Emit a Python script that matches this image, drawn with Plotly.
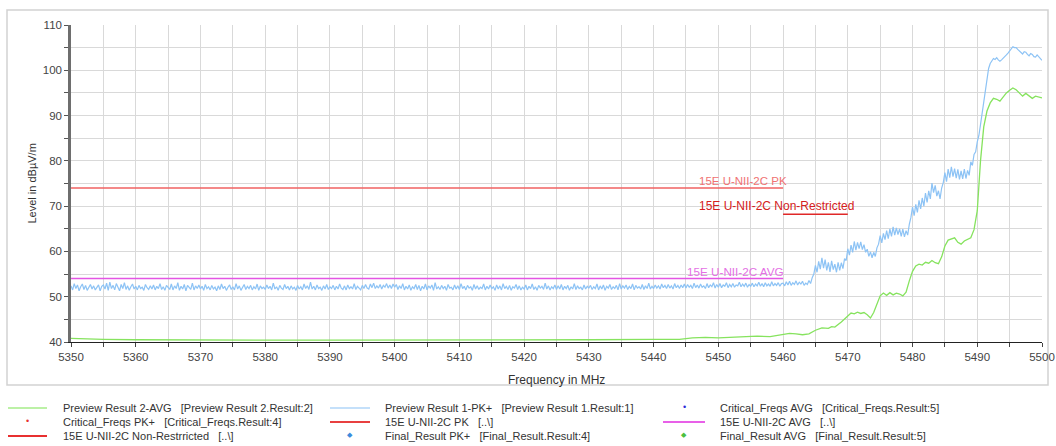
import plotly.graph_objects as go

# ---------------- data ----------------
pk_freq_start = 5350.0
pk_freq_step = 0.25
pk_levels = [
    52.4, 51.5, 52.9, 51.8, 52.6, 51.3, 52.2, 52.8, 51.6, 52.5, 51.4, 52.1, 52.7, 51.7, 52.4, 51.5, 52.0, 52.6, 51.3, 52.3,
    52.6, 51.7, 53.0, 51.4, 53.2, 51.8, 52.5, 51.5, 52.9, 51.9, 51.3, 52.7, 51.8, 53.1, 51.6, 52.4, 51.4, 52.2, 52.8, 51.7,
    52.3, 51.5, 52.5, 51.8, 52.1, 51.4, 52.7, 52.0, 51.6, 52.4, 51.7, 52.6, 51.5, 52.3, 51.8, 52.9, 51.6, 52.2, 51.4, 52.5,
    52.1, 51.6, 52.8, 51.5, 52.4, 51.8, 53.1, 51.4, 52.3, 51.7, 52.7, 51.3, 52.5, 51.9, 51.6, 53.0, 51.5, 52.4, 51.8, 52.6,
    51.7, 52.3, 51.4, 52.7, 51.8, 52.2, 51.5, 52.5, 51.7, 52.1, 51.3, 52.4, 51.6, 52.8, 51.8, 52.3, 51.4, 52.1, 52.6, 51.6,
    52.2, 51.5, 52.9, 51.7, 52.4, 51.4, 52.1, 52.7, 51.6, 52.3, 51.8, 52.5, 51.5, 52.2, 51.7, 52.8, 51.4, 52.4, 51.8, 52.1,
    51.6, 52.6, 51.8, 52.3, 51.5, 53.0, 51.7, 52.2, 51.4, 52.5, 51.9, 51.6, 52.7, 51.8, 52.3, 51.5, 52.4, 51.7, 52.1, 51.4,
    52.5, 51.7, 52.2, 51.5, 52.8, 51.8, 52.4, 51.6, 53.2, 51.7, 52.3, 51.5, 52.6, 51.8, 52.1, 51.4, 52.4, 51.7, 52.7, 51.6,
    52.2, 51.8, 52.5, 51.5, 52.3, 51.7, 52.8, 51.9, 51.6, 52.4, 51.5, 52.6, 51.8, 52.2, 51.7, 52.9, 51.6, 52.3, 51.9, 51.5,
    52.5, 51.8, 52.7, 51.9, 51.7, 52.8, 52.0, 53.0, 51.8, 52.4, 51.9, 52.7, 51.7, 52.5, 52.1, 52.9, 51.9, 52.6, 51.8, 52.8,
    52.1, 52.7, 51.6, 52.4, 51.8, 52.9, 51.5, 52.3, 51.7, 52.6, 51.4, 52.2, 51.8, 52.7, 51.6, 52.5, 51.3, 52.3, 51.7, 52.8,
    51.5, 52.4, 51.9, 52.6, 51.4, 53.1, 51.7, 52.2, 51.6, 52.5, 51.8, 52.3, 51.4, 52.7, 51.9, 52.1, 51.5, 52.6, 51.7, 52.4,
    51.6, 52.9, 51.8, 52.3, 51.5, 52.5, 51.9, 52.2, 51.4, 52.7, 51.7, 52.4, 51.6, 52.1, 51.8, 52.8, 51.5, 52.3, 51.7, 52.6,
    51.8, 52.2, 51.4, 52.6, 51.7, 52.4, 51.5, 52.9, 51.8, 52.3, 51.6, 52.5, 51.4, 52.2, 51.9, 52.7, 51.6, 52.4, 51.5, 52.1,
    51.7, 52.6, 51.5, 52.3, 51.8, 52.8, 51.6, 52.2, 51.4, 52.5, 51.9, 52.3, 51.6, 53.0, 51.7, 52.4, 51.5, 52.2, 51.8, 52.6,
    51.6, 52.4, 51.7, 52.7, 51.5, 52.3, 51.8, 52.5, 51.4, 52.2, 51.7, 52.9, 51.6, 52.4, 51.8, 52.1, 51.5, 52.6, 51.7, 52.3,
    51.9, 52.5, 51.6, 52.2, 51.8, 52.8, 51.5, 52.4, 51.7, 52.6, 51.4, 52.3, 51.9, 52.7, 51.6, 52.2, 51.8, 52.5, 51.5, 52.9,
    51.7, 52.4, 51.9, 52.6, 51.6, 52.3, 51.8, 52.8, 51.5, 52.5, 51.9, 52.2, 51.7, 52.7, 51.6, 52.4, 51.8, 53.0, 51.7, 52.3,
    51.8, 52.6, 51.9, 52.4, 51.7, 52.8, 52.0, 52.5, 51.8, 52.7, 51.9, 52.4, 51.7, 52.9, 52.0, 52.5, 51.8, 52.6, 52.0, 52.8,
    51.9, 52.7, 52.1, 52.5, 51.8, 53.0, 52.0, 52.6, 51.9, 52.8, 52.1, 52.4, 51.8, 52.9, 52.0, 52.6, 52.2, 53.1, 51.9, 52.7,
    52.1, 52.9, 52.0, 52.6, 52.3, 53.1, 52.0, 52.7, 52.2, 52.9, 52.1, 52.6, 52.4, 53.2, 52.2, 52.8, 52.3, 53.0, 52.1, 52.7,
    52.3, 53.0, 52.2, 52.8, 52.4, 53.2, 52.3, 52.9, 52.2, 53.1, 52.4, 52.8, 52.3, 53.3, 52.4, 52.9, 52.5, 53.1, 52.3, 52.9,
    53.0, 52.4, 53.3, 52.6, 53.4, 52.5, 53.1, 52.7, 53.5, 52.6, 53.2, 52.8, 53.4, 52.5, 53.0, 52.7,
    53.6, 52.9, 54.2, 55.0, 56.9, 55.4, 57.8, 56.1, 58.6, 56.3, 58.2, 55.8, 57.6, 55.5, 57.9, 56.0,
    57.2, 55.4, 57.6, 55.8, 57.5, 56.2, 58.4, 58.0, 60.6, 59.2, 61.4, 59.8, 62.2, 60.3, 62.0, 60.6,
    62.1, 60.4, 61.5, 59.8, 60.5, 58.9, 59.9, 58.6, 59.8, 58.9, 60.8, 61.6, 63.5, 61.9, 64.0, 62.6,
    64.6, 62.8, 65.0, 63.3, 65.4, 63.6, 65.2, 63.7, 65.0, 63.3, 64.9, 63.2, 64.6, 63.6, 66.0, 67.5,
    69.8, 67.9, 70.4, 68.6, 71.3, 69.4, 71.8, 70.0, 72.9, 70.8, 73.4, 71.6, 75.1, 73.0, 74.6, 72.2,
    73.4, 71.6, 74.0, 75.2, 77.4, 75.4, 78.2, 76.3, 78.7, 76.5, 78.3, 76.2, 78.1, 75.9, 77.8, 76.0,
    78.2, 76.1, 77.9, 76.8, 79.8, 79.0, 81.4, 82.0, 84.2, 85.6, 88.0, 90.6, 93.2, 96.0, 98.6, 100.4,
    101.5, 102.2, 102.6, 102.4, 102.8, 102.3, 102.0, 102.3, 102.6, 103.0, 103.4, 103.8, 104.3, 104.9, 105.2, 105.0,
    105.0, 104.6, 104.3, 103.8, 103.6, 104.1, 104.0, 103.5, 103.2, 103.7, 103.5, 103.0, 102.9, 103.4, 103.0, 102.6,
    102.2,
]
pk_freqs = [pk_freq_start + pk_freq_step * i for i in range(len(pk_levels))]

avg_freqs = [
    5350, 5352, 5355, 5360, 5370, 5380, 5390, 5400, 5410, 5420, 5430, 5440, 5444, 5446, 5448, 5450,
    5452, 5454, 5456, 5458, 5460, 5461, 5462, 5463, 5464, 5465, 5466, 5467, 5467.5, 5468, 5469, 5470,
    5470.5, 5471, 5471.5, 5472, 5472.5, 5473, 5473.5, 5474, 5474.5, 5475, 5475.5, 5476, 5476.5, 5477,
    5477.5, 5478, 5478.5, 5479, 5479.5, 5480, 5480.5, 5481, 5481.5, 5482, 5482.5, 5483, 5483.5, 5484,
    5484.5, 5485, 5485.5, 5486, 5486.5, 5487, 5487.5, 5488, 5488.5, 5489, 5489.5, 5490, 5490.5, 5491,
    5491.5, 5492, 5492.5, 5493, 5493.5, 5494, 5494.5, 5495, 5495.5, 5496, 5496.5, 5497, 5497.5, 5498,
    5498.5, 5499, 5500,
]
avg_levels = [
    40.8, 40.7, 40.6, 40.5, 40.4, 40.4, 40.4, 40.4, 40.5, 40.5, 40.5, 40.6, 40.6, 40.9, 41.0, 40.9,
    41.0, 41.2, 41.3, 41.2, 41.6, 41.9, 41.8, 41.6, 41.8, 42.6, 43.1, 43.0, 43.4, 43.3, 44.4, 45.6,
    46.4, 46.2, 46.6, 46.3, 46.5, 46.0, 45.3, 46.5, 48.5, 50.2, 50.8, 50.3, 50.9, 50.4,
    50.8, 50.6, 50.2, 51.0, 53.5, 55.6, 56.8, 57.2, 57.0, 57.6, 57.4, 58.0, 57.5, 57.3,
    58.8, 61.2, 62.5, 62.8, 63.0, 62.0, 61.6, 62.3, 62.6, 63.0, 64.8, 69.0, 80.0, 87.5,
    91.0, 92.8, 93.8, 93.6, 93.2, 94.2, 95.0, 95.6, 96.1, 95.7, 95.0, 94.3, 94.9, 94.4,
    93.8, 94.3, 93.9,
]

lim_pk_freqs = [5350, 5460]
lim_pk_levels = [74.0, 74.0]
lim_avg_freqs = [5350, 5460]
lim_avg_levels = [54.0, 54.0]
lim_nr_freqs = [5460, 5470]
lim_nr_levels = [68.2, 68.2]

x_ticks = [5350, 5360, 5370, 5380, 5390, 5400, 5410, 5420, 5430, 5440, 5450, 5460, 5470, 5480, 5490, 5500]
y_ticks = [40, 50, 60, 70, 80, 90, 100, 110]

legend_names = [
    "Preview Result 2-AVG\u00a0\u00a0\u00a0[Preview Result 2.Result:2]",
    "Preview Result 1-PK+\u00a0\u00a0\u00a0[Preview Result 1.Result:1]",
    "Critical_Freqs AVG\u00a0\u00a0\u00a0[Critical_Freqs.Result:5]",
    "Critical_Freqs PK+\u00a0\u00a0\u00a0[Critical_Freqs.Result:4]",
    "15E U-NII-2C PK\u00a0\u00a0\u00a0[..\\]",
    "15E U-NII-2C AVG\u00a0\u00a0\u00a0[..\\]",
    "15E U-NII-2C Non-Restrricted\u00a0\u00a0\u00a0[..\\]",
    "Final_Result PK+\u00a0\u00a0\u00a0[Final_Result.Result:4]",
    "Final_Result AVG\u00a0\u00a0\u00a0[Final_Result.Result:5]",
]
legend_kinds = ["line", "line", "dot", "dot", "line", "line", "line", "diamond", "diamond"]
legend_colors = ["#A6EC88", "#B0D6F8", "#2A2AD8", "#E83030", "#E84040", "#E860E8", "#E83030", "#3C8CDC", "#4CC040"]
legend_widths = [1.5, 1.5, 0, 0, 2, 2, 2, 0, 0]

# ---------------- colours ----------------
C_PK = "#8DC3F5"
C_AVG = "#86E35E"
C_LIM_PK = "#F06262"
C_LIM_NR = "#E02828"
C_LIM_AVG = "#E455E4"

fig = go.Figure()
fig.add_trace(go.Scatter(x=avg_freqs, y=avg_levels, mode="lines",
                         line=dict(color=C_AVG, width=1.3), showlegend=False))
fig.add_trace(go.Scatter(x=pk_freqs, y=pk_levels, mode="lines",
                         line=dict(color=C_PK, width=1.2), showlegend=False))
fig.add_trace(go.Scatter(x=lim_pk_freqs, y=lim_pk_levels, mode="lines",
                         line=dict(color=C_LIM_PK, width=1.5), showlegend=False))
fig.add_trace(go.Scatter(x=lim_avg_freqs, y=lim_avg_levels, mode="lines",
                         line=dict(color=C_LIM_AVG, width=1.5), showlegend=False))
fig.add_trace(go.Scatter(x=lim_nr_freqs, y=lim_nr_levels, mode="lines",
                         line=dict(color=C_LIM_NR, width=1.5), showlegend=False))

FONT = "Liberation Sans, Arial, sans-serif"
annotations = []
shapes = []

# limit labels
annotations.append(dict(x=lim_pk_freqs[1] + 0.9, y=lim_pk_levels[1], xref="x", yref="y", text="15E U-NII-2C PK",
                        showarrow=False, xanchor="right", yanchor="bottom", yshift=-1,
                        font=dict(family=FONT, size=11.5, color="#F07272")))
annotations.append(dict(x=lim_nr_freqs[1] + 1.3, y=lim_nr_levels[1], xref="x", yref="y",
                        text="15E U-NII-2C Non-Restricted",
                        showarrow=False, xanchor="right", yanchor="bottom", yshift=-1,
                        font=dict(family=FONT, size=12, color="#D42020")))
annotations.append(dict(x=lim_avg_freqs[1] + 0.5, y=lim_avg_levels[1], xref="x", yref="y", text="15E U-NII-2C AVG",
                        showarrow=False, xanchor="right", yanchor="bottom", yshift=-1,
                        font=dict(family=FONT, size=11.7, color="#E470E4")))

# pixel -> paper helpers (plot area: x 71..1042, y 25..342)
PL, PR, PT, PB = 71, 1042, 25, 342
def px(xp):
    return (xp - PL) / (PR - PL)
def py(yp):
    return (PB - yp) / (PB - PT)

# axis titles
annotations.append(dict(x=px(31), y=0.5, xref="paper", yref="paper", text="Level in dBµV/m", textangle=-90,
                        showarrow=False, xanchor="center", yanchor="middle",
                        font=dict(family=FONT, size=11, color="#333333")))
annotations.append(dict(x=0.5, y=py(380), xref="paper", yref="paper", text="Frequency in MHz",
                        showarrow=False, xanchor="center", yanchor="middle",
                        font=dict(family=FONT, size=12, color="#333333")))

# outer frame
shapes.append(dict(type="rect", xref="paper", yref="paper", x0=px(7), x1=px(1048), y0=py(385), y1=py(10),
                   line=dict(color="#D2D2D2", width=1.5), fillcolor="rgba(0,0,0,0)", layer="below"))

# legend (3 columns, row-major)
col_sym = [(8, 47), (330, 370), (663, 705)]
col_text = [61, 383, 718]
row_y = [408, 422, 436]
for i, (name, kind, colr, lw) in enumerate(zip(legend_names, legend_kinds, legend_colors, legend_widths)):
    r, c = divmod(i, 3)
    yy = row_y[r]
    x0, x1 = col_sym[c]
    if kind == "line":
        shapes.append(dict(type="line", xref="paper", yref="paper", x0=px(x0), x1=px(x1), y0=py(yy), y1=py(yy),
                           line=dict(color=colr, width=lw)))
    elif kind == "dot":
        annotations.append(dict(x=px((x0 + x1) / 2), y=py(yy - 1), xref="paper", yref="paper", text="•",
                                showarrow=False, xanchor="center", yanchor="middle",
                                font=dict(family=FONT, size=9, color=colr)))
    else:
        annotations.append(dict(x=px((x0 + x1) / 2), y=py(yy - 1), xref="paper", yref="paper", text="◆",
                                showarrow=False, xanchor="center", yanchor="middle",
                                font=dict(family="DejaVu Sans", size=7, color=colr)))
    annotations.append(dict(x=px(col_text[c]), y=py(yy), xref="paper", yref="paper", text=name,
                            showarrow=False, xanchor="left", yanchor="middle",
                            font=dict(family=FONT, size=11, color="#333333")))

fig.update_layout(
    width=1056, height=446, autosize=False,
    margin=dict(l=PL, r=1056 - PR, t=PT, b=446 - PB, autoexpand=False),
    paper_bgcolor="white", plot_bgcolor="white",
    showlegend=False,
    annotations=annotations, shapes=shapes,
    font=dict(family=FONT, size=11, color="#333333"),
)
fig.update_xaxes(
    range=[5350, 5500], tickvals=x_ticks, ticktext=[str(v) for v in x_ticks],
    showgrid=True, gridcolor="#D9D9D9", gridwidth=1,
    showline=True, linecolor="#222222", linewidth=1,
    ticks="outside", ticklen=4, tickcolor="#444444",
    minor=dict(dtick=5, tick0=5350, showgrid=True, gridcolor="#D9D9D9", ticks="outside", ticklen=4, tickcolor="#444444"),
    tickfont=dict(family=FONT, size=11.5, color="#444444"),
    zeroline=False, fixedrange=True, automargin=False,
)
fig.update_yaxes(
    range=[40, 110], tickvals=y_ticks, ticktext=[str(v) for v in y_ticks],
    showgrid=True, gridcolor="#D9D9D9", gridwidth=1,
    showline=True, linecolor="#6E6E6E", linewidth=2.5,
    ticks="outside", ticklen=4, tickcolor="#555555",
    minor=dict(dtick=5, tick0=40, showgrid=True, gridcolor="#D9D9D9", ticks="outside", ticklen=4, tickcolor="#555555"),
    tickfont=dict(family=FONT, size=11.5, color="#444444"),
    zeroline=False, fixedrange=True, automargin=False,
)

fig.write_html(
    "out.html",
    config={"responsive": False, "displayModeBar": False},
    post_script="document.body.style.margin='0';document.body.style.padding='0';document.body.style.overflow='hidden';",
)
